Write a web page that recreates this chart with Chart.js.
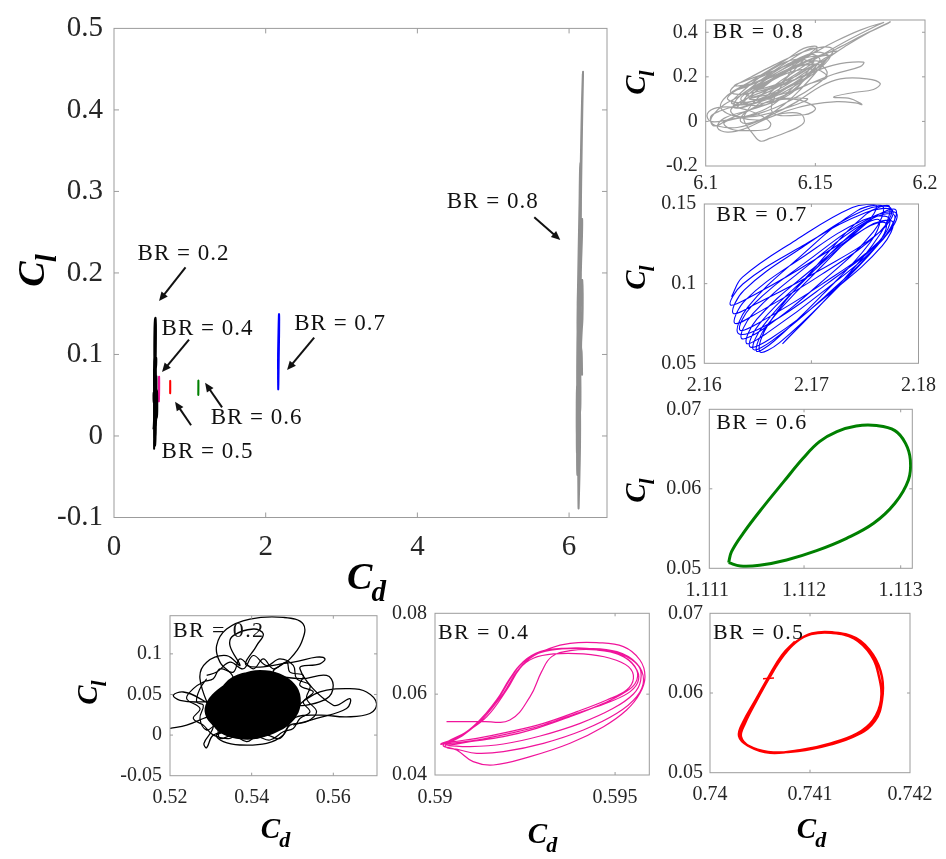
<!DOCTYPE html>
<html>
<head>
<meta charset="utf-8">
<script src="https://cdn.jsdelivr.net/npm/chart.js@4.4.0/dist/chart.umd.min.js"></script>
<style>
  html, body { margin: 0; padding: 0; background: #fff; }
  #wrap { position: relative; width: 946px; height: 859px; }
  #wrap canvas { position: absolute; left: 0; top: 0; }
</style>
</head>
<body>
<div id="wrap">
  <canvas id="cMain" width="946" height="859"></canvas>
  <canvas id="c08" width="946" height="859"></canvas>
  <canvas id="c07" width="946" height="859"></canvas>
  <canvas id="c06" width="946" height="859"></canvas>
  <canvas id="c02" width="946" height="859"></canvas>
  <canvas id="c04" width="946" height="859"></canvas>
  <canvas id="c05" width="946" height="859"></canvas>
</div>
<script>
// ---- tick values (also used as tick labels) ----
const mainCdTicks = [0, 2, 4, 6];
const mainClTicks = [-0.1, 0, 0.1, 0.2, 0.3, 0.4, 0.5];
const cd08Ticks = [6.1, 6.15, 6.2];
const cl08Ticks = [-0.2, 0, 0.2, 0.4];
const cd07Ticks = [2.16, 2.17, 2.18];
const cl07Ticks = [0.05, 0.1, 0.15];
const cd06Ticks = [1.111, 1.112, 1.113];
const cl06Ticks = [0.05, 0.06, 0.07];
const cd02Ticks = [0.52, 0.54, 0.56];
const cl02Ticks = [-0.05, 0, 0.05, 0.1];
const cd04Ticks = [0.59, 0.595];
const cl04Ticks = [0.04, 0.06, 0.08];
const cd05Ticks = [0.74, 0.741, 0.742];
const cl05Ticks = [0.05, 0.06, 0.07];

// ---- BR = 0.2 (black): outer loops, fringe round the core, dense core ----
const cd02 = [0.52000,0.52408,0.52816,0.53142,0.52734,0.52327,0.52082,0.52245,0.52734,0.53224,0.53551,0.53224,0.53142,0.53387,0.53959,0.54775,0.55264,0.55223,0.54938,0.54530,
  0.55182,0.55835,0.55998,0.55835,0.55182,0.55672,0.56406,0.56814,0.57059,0.56896,0.56325,0.55672,0.55019,0.54775,0.54367,0.53714,0.53306,0.53142,0.53551,0.53061,
  0.52898,0.52832,0.53061,0.52734,0.52898,0.53387,0.53714,0.53469,0.53551,0.54040,0.54285,0.54122,0.53877,0.55019,0.55590,0.55794,0.55672,0.55182,0.55998,0.56406,
  0.56325,0.55590,0.55019];
const cl02 = [0.00820,0.01228,0.02044,0.02860,0.04492,0.05308,0.04900,0.04288,0.04084,0.04492,0.06940,0.08980,0.11020,0.13060,0.14284,0.14488,0.13672,0.11428,0.09388,0.07756,
  0.06940,0.07348,0.06124,0.04492,0.03676,0.05308,0.05716,0.05308,0.03880,0.02656,0.02248,0.02452,0.02044,0.00000,-0.01016,-0.01220,-0.00812,0.00000,0.00616,0.00000,
  -0.01546,-0.01016,0.01228,0.06940,0.08980,0.09796,0.08572,0.11020,0.12244,0.13060,0.12448,0.11020,0.08572,0.08980,0.09592,0.09388,0.08776,0.08164,0.03676,0.04492,
  0.03268,0.02044,0.01228];
const cd02Fringe = [0.52898,0.52734,0.52653,0.52816,0.52734,0.52898,0.53142,0.53224,0.53551,0.53877,0.54122,0.54448,0.54775,0.55019,0.55182,0.55427,0.55264,0.55509,0.55182,0.55264,
  0.54938,0.54856,0.54530,0.54285,0.54040,0.53714,0.53551,0.53224,0.53061,0.52816,0.52571,0.52408,0.52734,0.52571,0.52816,0.53061,0.53469,0.53714,0.54040,0.54367,
  0.54693,0.54938,0.55346,0.55590,0.55346,0.55427,0.55101,0.55019,0.54693,0.54367,0.54040,0.53796,0.53469,0.53142,0.52898];
const cl02Fringe = [0.06940,0.05716,0.04084,0.03676,0.02044,0.00616,0.01228,-0.00404,0.00000,-0.00812,-0.00200,-0.00608,0.00412,0.00820,0.02044,0.02860,0.04084,0.05308,0.06124,0.07348,
  0.07756,0.08980,0.08164,0.09388,0.08164,0.09388,0.07756,0.08164,0.06940,0.06532,0.05716,0.04492,0.03268,0.02044,0.01228,0.00000,-0.00404,0.00412,-0.00404,0.00000,
  -0.00404,0.01228,0.01636,0.02860,0.04492,0.06124,0.06940,0.08572,0.09388,0.08572,0.09796,0.08164,0.08980,0.07756,0.07348];
const cd02Core = [0.53061,0.53551,0.54367,0.54938,0.54856,0.54040,0.53224,0.52898,0.53387,0.54204,0.55019,0.55101,0.54530,0.53632,0.53061,0.53142,0.53877,0.54775,
  0.55019,0.54612,0.53714,0.53224,0.53551,0.54367,0.54775,0.54367,0.53551,0.53387,0.53959,0.54530,0.54285,0.53714,0.53796,0.53061];
const cl02Core = [0.03676,0.06940,0.07348,0.05308,0.01636,0.00000,0.00820,0.03268,0.06124,0.07756,0.06124,0.02860,0.00412,-0.00200,0.01636,0.04900,0.06940,0.06532,
  0.03676,0.00820,0.00412,0.02860,0.05716,0.06124,0.03676,0.01228,0.01228,0.04084,0.05308,0.04492,0.02044,0.02044,0.04084,0.03676];

// ---- BR = 0.4 (magenta) ----
const cd04 = [0.59032,0.59125,0.59208,0.59264,0.59296,0.59324,0.59375,0.59449,0.59514,0.59556,0.59565,0.59542,0.59486,0.59394,0.59301,0.59208,0.59116,0.59042,0.59016,
  0.59069,0.59125,0.59176,0.59213,0.59245,0.59292,0.59356,0.59449,0.59523,0.59560,0.59556,0.59523,0.59468,0.59375,0.59282,0.59190,0.59097,0.59032,
  0.59060,0.59116,0.59171,0.59208,0.59241,0.59282,0.59338,0.59421,0.59505,0.59560,0.59579,0.59560,0.59505,0.59412,0.59301,0.59190,0.59116,0.59069,0.59028,
  0.59079,0.59134,0.59190,0.59227,0.59264,0.59319,0.59375,0.59449,0.59523,0.59569,0.59583,0.59569,0.59532,0.59468,0.59375,0.59264,0.59162,0.59106,0.59060,0.59023,
  0.59088,0.59144,0.59199,0.59236,0.59273,0.59329,0.59412,0.59486,0.59537,0.59551,0.59532,0.59477,0.59394,0.59301,0.59208,0.59116,0.59051,0.59019,
  0.59065,0.59120,0.59173,0.59210,0.59244,0.59287,0.59347,0.59435,0.59514,0.59565,0.59571,0.59551,0.59495,0.59403,0.59292,0.59190,0.59097,0.59037];
const cl04 = [0.05320,0.05328,0.05361,0.05938,0.06557,0.06928,0.07076,0.07093,0.06969,0.06664,0.06351,0.06062,0.05814,0.05526,0.05237,0.05031,0.04866,0.04784,0.04767,
  0.04948,0.05361,0.05897,0.06433,0.06804,0.07052,0.07134,0.07109,0.06928,0.06598,0.06268,0.06021,0.05773,0.05443,0.05155,0.04948,0.04825,0.04742,
  0.04907,0.05278,0.05856,0.06392,0.06763,0.06994,0.07109,0.07134,0.07052,0.06763,0.06351,0.05938,0.05526,0.05113,0.04784,0.04577,0.04536,0.04619,0.04718,
  0.04990,0.05402,0.06021,0.06557,0.06887,0.07134,0.07258,0.07274,0.07175,0.06845,0.06433,0.06021,0.05608,0.05196,0.04784,0.04454,0.04247,0.04330,0.04619,0.04742,
  0.05072,0.05443,0.06103,0.06639,0.06887,0.06994,0.06994,0.06887,0.06680,0.06392,0.06103,0.05856,0.05567,0.05278,0.05072,0.04907,0.04825,0.04784,
  0.04932,0.05320,0.05872,0.06416,0.06779,0.07027,0.07118,0.07118,0.06994,0.06697,0.06334,0.06004,0.05649,0.05278,0.04965,0.04767,0.04701,0.04726];

// ---- BR = 0.5 (red): short start stub, then the cycle ----
const cd05Stub = [0.74053, 0.74064];
const cl05Stub = [0.06180, 0.06188];
const cd05 = [0.74060,0.74073,0.74086,0.74101,0.74121,0.74144,0.74161,0.74169,0.74171,0.74163,0.74147,0.74120,0.74090,0.74060,0.74040,0.74031,0.74035,0.74047,0.74060,
  0.74074,0.74087,0.74102,0.74122,0.74146,0.74163,0.74172,0.74172,0.74165,0.74148,0.74120,0.74088,0.74058,0.74038,0.74029,0.74033,0.74046,0.74059,0.74072,0.74085];
const cl05 = [0.06205,0.06470,0.06640,0.06738,0.06755,0.06684,0.06475,0.06205,0.05910,0.05660,0.05492,0.05366,0.05282,0.05250,0.05325,0.05452,0.05620,0.05915,0.06210,
  0.06480,0.06650,0.06748,0.06762,0.06690,0.06480,0.06200,0.05905,0.05650,0.05480,0.05352,0.05270,0.05262,0.05340,0.05460,0.05630,0.05920,0.06210,0.06475,0.06645];

// ---- BR = 0.6 (green) ----
const cd06 = [1.11122,1.11134,1.11154,1.11182,1.11213,1.11244,1.11272,1.11294,1.11308,1.11310,1.11305,1.11294,1.11275,1.11254,1.11234,1.11216,1.11199,1.11179,1.11158,1.11137,1.11125,1.11122];
const cl06 = [0.05071,0.05029,0.05038,0.05105,0.05222,0.05377,0.05566,0.05818,0.06111,0.06363,0.06572,0.06732,0.06795,0.06790,0.06719,0.06593,0.06384,0.06090,0.05776,0.05440,0.05210,0.05071];

// ---- BR = 0.7 (blue) ----
const cd07 = [2.16254,2.16357,2.16854,2.17382,2.17603,2.17501,2.17003,2.16476,
  2.16245,2.16360,2.16918,2.17509,2.17758,2.17643,2.17085,2.16494,
  2.16270,2.16372,2.16913,2.17491,2.17743,2.17640,2.17099,2.16521,
  2.16285,2.16384,2.16913,2.17480,2.17727,2.17629,2.17099,2.16533,
  2.16332,2.16440,2.16980,2.17553,2.17795,2.17687,2.17147,2.16574,
  2.16316,2.16404,2.16898,2.17429,2.17665,2.17578,2.17084,2.16553,
  2.16347,2.16451,2.16977,2.17536,2.17774,2.17669,2.17144,2.16585,
  2.16394,2.16491,2.16992,2.17527,2.17758,2.17661,2.17160,2.16624,
  2.16425,2.16518,2.16986,2.17484,2.17696,2.17603,2.17135,2.16637,
  2.16456,2.16545,2.16980,2.17441,2.17634,2.17545,2.17110,2.16649,
  2.16487,2.16584,2.17064,2.17573,2.17789,2.17692,2.17212,2.16703,
  2.16518,2.16596,2.17039,2.17515,2.17727,2.17649,2.17206,2.16730];
const cl07 = [0.09184,0.10410,0.12730,0.14782,0.14937,0.13711,0.11391,0.09339,
  0.08661,0.09975,0.12374,0.14473,0.14582,0.13268,0.10868,0.08770,
  0.08138,0.09598,0.12270,0.14607,0.14728,0.13268,0.10596,0.08259,
  0.07510,0.08971,0.11642,0.13979,0.14100,0.12640,0.09969,0.07632,
  0.07092,0.08573,0.11506,0.14138,0.14414,0.12933,0.10000,0.07368,
  0.06883,0.08510,0.11715,0.14586,0.14874,0.13247,0.10042,0.07172,
  0.06569,0.08100,0.11192,0.13983,0.14310,0.12778,0.09686,0.06895,
  0.06255,0.07774,0.10826,0.13577,0.13891,0.12372,0.09320,0.06569,
  0.06046,0.07510,0.10586,0.13393,0.13787,0.12322,0.09247,0.06439,
  0.05879,0.07322,0.10523,0.13490,0.13996,0.12552,0.09351,0.06385,
  0.05774,0.07372,0.10868,0.14096,0.14623,0.13025,0.09529,0.06301,
  0.05732,0.07431,0.11056,0.14381,0.14874,0.13176,0.09550,0.06226];

// ---- BR = 0.8 (gray) ----
const cd08 = [6.12500,6.13409,6.14469,6.15075,6.14772,6.13712,6.12500,6.11591,6.10833,6.10379,6.10227,6.10530,6.11439,6.12500,6.13560,6.14318,6.15075,6.15530,6.15833,6.15378,
  6.14318,6.13106,6.12045,6.11288,6.11136,6.11742,6.12954,6.14318,6.15833,6.17196,6.17045,6.15833,6.14621,6.13560,6.12500,6.11742,6.11591,6.12045,6.13106,6.14166,
  6.15227,6.16136,6.17348,6.17954,6.17651,6.16742,6.15833,6.16590,6.17045,6.17120,6.16893,6.15984,6.14772,6.13712,6.12651,6.11742,6.10985,6.10530,6.10833,6.11894,
  6.13106,6.14015,6.14772,6.15530,6.16439,6.17499,6.18408,6.18257,6.17196,6.16136,6.15378,6.14621,6.13712,6.12803,6.11894,6.11439,6.11894,6.13106,6.14015,6.14924,
  6.15833,6.17045,6.18105,6.17802,6.16439,6.15227,6.14318,6.13257,6.12348,6.11894,6.11742,6.12197,6.12500,6.12954,6.13712,6.14469,6.14318,6.13409,6.12500,6.11439,
  6.10682,6.10985,6.11894,6.12803,6.13712,6.14469,6.15075,6.14621,6.13863,6.12954,6.12197,6.11591,6.10985,6.10379,6.10227,6.10682,6.11591,6.12651,6.13712,6.14772,
  6.15530,6.15075,6.14015,6.12803,6.11894,6.11439,6.11894,6.12954,6.14015,6.14621,
  6.14621,6.13712,6.12500,6.11591,6.11136,6.11591,6.12803,6.14015,6.14924,6.15530,6.15227,6.14318,6.13257,6.12197,6.11439,6.11288,6.12045,6.13257,6.14469,6.15227,
  6.15681,6.15075,6.14015,6.12954,6.12045,6.11742,6.12500,6.13560,6.14621,6.15378,6.15984,6.15530,6.14469,6.13409,6.12500,6.11894,6.12348,6.13409,6.14318,6.14924,
  6.14621,6.13712,6.12803,6.12197,6.12954,6.14015,6.14772,6.13257,6.12197,6.10985,6.10227,6.10076,6.10530,6.11439,6.12348,6.12954,6.12803,6.11894,6.11136,6.10833,
  6.11439,6.12500,6.13712,6.14621,
  6.12000,6.13500,6.15000,6.14200,6.12800,6.11500,6.11200,6.12500,6.14000,6.15200,6.14800,6.13600,6.12200,6.11600,6.12400,6.13800,6.14600,6.15000,6.14000,6.12800,
  6.11800,6.12200,6.13400,6.14500,6.15600,6.15000,6.13800,6.12600,6.11400,6.11000,6.11800,6.13100,6.14300,6.15300,6.14600,6.13300,6.12100,6.11300,6.12000,6.13200,
  6.14000,6.13000,6.14500,6.15000,6.14000,6.12500];
const cl08 = [0.1434,0.2116,0.2799,0.3208,0.3277,0.2662,0.1843,0.1161,0.0751,0.0342,0.0000,-0.0204,-0.0272,0.0069,0.0751,0.1434,0.2253,0.2799,0.3208,0.3345,
  0.3072,0.2526,0.1980,0.1570,0.1297,0.1229,0.1502,0.1980,0.2526,0.2662,0.2458,0.2116,0.1639,0.1161,0.0751,0.0342,0.0000,-0.0068,0.0342,0.0888,
  0.1570,0.1912,0.1912,0.1707,0.1434,0.1297,0.1093,0.1024,0.0820,0.0751,0.0820,0.0888,0.0751,0.0478,0.0069,-0.0341,-0.0477,-0.0272,0.0137,0.0478,
  0.0888,0.1434,0.2116,0.2799,0.3413,0.4027,0.4464,0.4369,0.3891,0.3345,0.3004,0.2867,0.2526,0.2116,0.1707,0.1434,0.1570,0.2116,0.2594,0.3072,
  0.3550,0.4096,0.4437,0.4300,0.3618,0.2935,0.2389,0.1707,0.1024,0.0478,0.0069,-0.0614,-0.0887,-0.0750,-0.0477,-0.0068,0.0342,0.0342,0.0069,0.0205,
  0.0615,0.1161,0.1707,0.2253,0.2799,0.3277,0.3345,0.2935,0.2116,0.1297,0.0615,0.0342,0.0069,-0.0204,0.0205,0.0478,0.0751,0.1024,0.1297,0.1707,
  0.1980,0.2321,0.2253,0.1707,0.1024,0.0615,0.0683,0.1161,0.1707,0.1980,
  0.2116,0.1707,0.1297,0.0888,0.0478,0.0205,0.0478,0.1024,0.1570,0.2116,0.2526,0.2526,0.2116,0.1570,0.1024,0.0615,0.0751,0.1161,0.1843,0.2389,
  0.2935,0.2867,0.2389,0.1843,0.1297,0.0888,0.1024,0.1570,0.2253,0.2799,0.3140,0.3072,0.2662,0.2116,0.1570,0.1161,0.1229,0.1707,0.2253,0.2662,
  0.2594,0.2253,0.1775,0.1434,0.1570,0.1980,0.2389,0.0888,0.0342,0.0069,0.0000,0.0342,0.0615,0.0615,0.0342,-0.0068,-0.0341,-0.0409,-0.0341,-0.0068,
  0.0137,0.0273,0.0615,0.1024,
  0.1000,0.1400,0.2400,0.2800,0.2200,0.1200,0.0800,0.0900,0.1700,0.2700,0.3000,0.2400,0.1500,0.1000,0.0700,0.1200,0.2000,0.2500,0.2400,0.1800,
  0.1300,0.1100,0.1600,0.2300,0.2900,0.3100,0.2600,0.1900,0.1400,0.1000,0.0850,0.1200,0.1900,0.2600,0.2700,0.2100,0.1700,0.1600,0.1900,0.2300,
  0.2600,0.0500,0.0300,0.0600,0.1000,0.0800];

// notes and arrows of the overview plot, in data units
const mainNotes = [
  { text: 'BR = 0.2', tx: 0.917, ty: 0.2236, from: [0.943, 0.2067], to: [0.594, 0.1655] },
  { text: 'BR = 0.4', tx: 1.233, ty: 0.1317, from: [0.989, 0.1183], to: [0.633, 0.0784] },
  { text: 'BR = 0.5', tx: 1.233, ty: -0.0196, from: [1.016, 0.0131], to: [0.805, 0.0421] },
  { text: 'BR = 0.6', tx: 1.880, ty: 0.0216, from: [1.425, 0.0351], to: [1.201, 0.0652] },
  { text: 'BR = 0.7', tx: 2.982, ty: 0.1377, from: [2.639, 0.1207], to: [2.282, 0.0808] },
  { text: 'BR = 0.8', tx: 4.993, ty: 0.2877, from: [5.541, 0.2683], to: [5.884, 0.2405] },
];

const SERIF = '"Liberation Serif", "Times New Roman", serif';
const COL = { b02: '#000000', b04: '#f0149b', b05: '#ff0000', b06: '#008000', b07: '#0000ff', b08: '#a0a0a0' };

function pts(xs, ys) {
  const n = Math.min(xs.length, ys.length);
  const out = [];
  for (let i = 0; i < n; i++) out.push({ x: xs[i], y: ys[i] });
  return out;
}

// C with a subscript, optionally turned for the vertical axis
function subLabel(ctx, main, sub, cx, cy, size, rotate) {
  ctx.save();
  ctx.translate(cx, cy);
  if (rotate) ctx.rotate(-Math.PI / 2);
  ctx.fillStyle = '#000';
  ctx.textBaseline = 'alphabetic';
  ctx.textAlign = 'left';
  const subSize = Math.round(size * 0.75);
  ctx.font = `italic bold ${size}px ${SERIF}`;
  const w1 = ctx.measureText(main).width;
  ctx.font = `italic bold ${subSize}px ${SERIF}`;
  const w2 = ctx.measureText(sub).width;
  const x0 = -(w1 + w2) / 2;
  ctx.font = `italic bold ${size}px ${SERIF}`;
  ctx.fillText(main, x0, size * 0.33);
  ctx.font = `italic bold ${subSize}px ${SERIF}`;
  ctx.fillText(sub, x0 + w1 - 1, size * 0.33 + size * 0.32);
  ctx.restore();
}

function arrow(ctx, x1, y1, x2, y2) {
  const ang = Math.atan2(y2 - y1, x2 - x1);
  const hl = 9, hw = 4;
  ctx.beginPath();
  ctx.moveTo(x1, y1);
  ctx.lineTo(x2 - Math.cos(ang) * hl * 0.8, y2 - Math.sin(ang) * hl * 0.8);
  ctx.stroke();
  ctx.beginPath();
  ctx.moveTo(x2, y2);
  ctx.lineTo(x2 - Math.cos(ang) * hl - Math.sin(ang) * hw, y2 - Math.sin(ang) * hl + Math.cos(ang) * hw);
  ctx.lineTo(x2 - Math.cos(ang) * hl + Math.sin(ang) * hw, y2 - Math.sin(ang) * hl - Math.cos(ang) * hw);
  ctx.closePath();
  ctx.fill();
}

function axis(min, max, ticks, size, pad, fixed, isX) {
  return {
    type: 'linear', min, max,
    afterBuildTicks: s => { s.ticks = ticks.map(v => ({ value: v })); },
    afterFit: s => { if (isX) s.height = fixed; else s.width = fixed; },
    grid: { display: false, drawTicks: false },
    border: { display: false },
    ticks: {
      font: { family: SERIF, size }, color: '#262626', padding: pad,
      maxRotation: 0, autoSkip: false, callback: (v, i) => String(ticks[i])
    }
  };
}

function makePanel(p) {
  const [bl, bt, br, bb] = p.box;
  const yw = 90, xh = 50;
  const overlay = {
    id: 'overlay',
    afterDatasetsDraw(chart) {
      const { ctx, chartArea: a, scales: { x, y } } = chart;
      ctx.save();
      ctx.strokeStyle = '#9c9c9c';
      ctx.lineWidth = 1;
      ctx.strokeRect(a.left, a.top, a.right - a.left, a.bottom - a.top);
      ctx.beginPath();
      for (const t of x.ticks) {
        const px = x.getPixelForValue(t.value);
        if (px - a.left < 2 || a.right - px < 2) continue;
        ctx.moveTo(px, a.bottom); ctx.lineTo(px, a.bottom - p.tickLen);
        ctx.moveTo(px, a.top); ctx.lineTo(px, a.top + p.tickLen);
      }
      for (const t of y.ticks) {
        const py = y.getPixelForValue(t.value);
        if (py - a.top < 2 || a.bottom - py < 2) continue;
        ctx.moveTo(a.left, py); ctx.lineTo(a.left + p.tickLen, py);
        ctx.moveTo(a.right, py); ctx.lineTo(a.right - p.tickLen, py);
      }
      ctx.stroke();

      ctx.fillStyle = '#111';
      ctx.strokeStyle = '#111';
      if (p.tag) {
        ctx.font = `${p.tag.size}px ${SERIF}`;
        ctx.letterSpacing = p.tag.spacing + 'px';
        ctx.textAlign = 'left';
        ctx.textBaseline = 'middle';
        ctx.fillText(p.tag.text, a.left + p.tag.dx, a.top + p.tag.dy);
      }
      if (p.notes) {
        ctx.font = `23px ${SERIF}`;
        ctx.letterSpacing = '1px';
        ctx.textAlign = 'center';
        ctx.textBaseline = 'middle';
        ctx.lineWidth = 2;
        for (const n of p.notes) {
          ctx.fillText(n.text, x.getPixelForValue(n.tx), y.getPixelForValue(n.ty));
          arrow(ctx, x.getPixelForValue(n.from[0]), y.getPixelForValue(n.from[1]),
                x.getPixelForValue(n.to[0]), y.getPixelForValue(n.to[1]));
        }
      }
      ctx.letterSpacing = '0px';
      if (p.xTitle) subLabel(ctx, 'C', 'd', p.xTitle[0], p.xTitle[1], p.titleSize, false);
      if (p.yTitle) subLabel(ctx, 'C', 'l', p.yTitle[0], p.yTitle[1], p.titleSize, true);
      ctx.restore();
    }
  };
  new Chart(document.getElementById(p.id), {
    type: 'scatter',
    data: {
      datasets: p.sets.map(s => ({
        data: s.data, showLine: true, pointRadius: 0, tension: s.tension ?? 0.4,
        borderColor: s.color, backgroundColor: s.color, borderWidth: s.width,
        fill: s.fill || false
      }))
    },
    options: {
      responsive: false, animation: false, events: [],
      layout: { padding: { left: bl - yw, top: bt, right: 946 - br, bottom: 859 - bb - xh } },
      plugins: { legend: { display: false }, tooltip: { enabled: false } },
      scales: {
        x: axis(p.xr[0], p.xr[1], p.xt, p.font, p.xpad, xh, true),
        y: axis(p.yr[0], p.yr[1], p.yt, p.font, p.ypad, yw, false)
      }
    },
    plugins: [overlay]
  });
}

// overview of all blockage ratios
makePanel({
  id: 'cMain', box: [114, 21.5, 607, 517.5], xr: [0, 6.5], yr: [-0.1, 0.5],
  xt: mainCdTicks, yt: mainClTicks, font: 29, xpad: 12, ypad: 11, tickLen: 5,
  notes: mainNotes, xTitle: [367, 576], yTitle: [31, 270], titleSize: 38,
  sets: [
    { data: pts(cd08, cl08), color: '#909090', width: 2 },
    { data: pts(cd07, cl07), color: COL.b07, width: 2 },
    { data: pts(cd06, cl06), color: COL.b06, width: 2 },
    { data: pts(cd05, cl05), color: COL.b05, width: 2 },
    { data: pts(cd02, cl02), color: COL.b02, width: 2 },
    { data: pts(cd02Core, cl02Core), color: COL.b02, width: 2 },
    { data: pts(cd04, cl04), color: COL.b04, width: 2 }
  ]
});

const smallTag = (text, dx, dy) => ({ text, dx, dy, size: 22, spacing: 1.4 });

makePanel({
  id: 'c08', box: [705.7, 7.3, 925, 166], xr: [6.1, 6.2], yr: [-0.2, 0.455],
  xt: cd08Ticks, yt: cl08Ticks, font: 20, xpad: 6, ypad: 8, tickLen: 3,
  tag: smallTag('BR = 0.8', 7, 12), yTitle: [635, 82], titleSize: 29,
  sets: [{ data: pts(cd08, cl08), color: COL.b08, width: 1.2 }]
});

makePanel({
  id: 'c07', box: [704.3, 204, 919.3, 363.3], xr: [2.16, 2.18], yr: [0.05, 0.15],
  xt: cd07Ticks, yt: cl07Ticks, font: 20, xpad: 10, ypad: 8, tickLen: 3,
  tag: smallTag('BR = 0.7', 12, 11), yTitle: [635, 277], titleSize: 29,
  sets: [{ data: pts(cd07, cl07), color: COL.b07, width: 1.1 }]
});

makePanel({
  id: 'c06', box: [709.3, 409.3, 912.3, 568.3], xr: [1.11102, 1.11312], yr: [0.05, 0.07],
  xt: cd06Ticks, yt: cl06Ticks, font: 20, xpad: 10, ypad: 8, tickLen: 3,
  tag: smallTag('BR = 0.6', 7, 14), yTitle: [635, 490], titleSize: 29,
  sets: [{ data: pts(cd06, cl06), color: COL.b06, width: 3 }]
});

makePanel({
  id: 'c02', box: [170, 615.7, 377, 775.7], xr: [0.52, 0.5707], yr: [-0.05, 0.147],
  xt: cd02Ticks, yt: cl02Ticks, font: 20, xpad: 10, ypad: 8, tickLen: 3,
  tag: smallTag('BR = 0.2', 3, 16), xTitle: [276, 828], yTitle: [87, 692], titleSize: 29,
  sets: [
    { data: pts(cd02Core, cl02Core), color: COL.b02, width: 4, fill: 'shape' },
    { data: pts(cd02Fringe, cl02Fringe), color: COL.b02, width: 1.2 },
    { data: pts(cd02, cl02), color: COL.b02, width: 1.3 }
  ]
});

makePanel({
  id: 'c04', box: [435, 613.3, 649.3, 775], xr: [0.59, 0.59595], yr: [0.04, 0.08],
  xt: cd04Ticks, yt: cl04Ticks, font: 20, xpad: 11, ypad: 8, tickLen: 3,
  tag: smallTag('BR = 0.4', 3, 20), xTitle: [543, 833], titleSize: 29,
  sets: [{ data: pts(cd04, cl04), color: COL.b04, width: 1.2 }]
});

makePanel({
  id: 'c05', box: [710, 613.3, 910, 772.7], xr: [0.74, 0.742], yr: [0.05, 0.07],
  xt: cd05Ticks, yt: cl05Ticks, font: 20, xpad: 10, ypad: 7, tickLen: 3,
  tag: smallTag('BR = 0.5', 3, 20), xTitle: [812, 828], titleSize: 29,
  sets: [
    { data: pts(cd05Stub, cl05Stub), color: COL.b05, width: 1.5, tension: 0 },
    { data: pts(cd05, cl05), color: COL.b05, width: 2.4 }
  ]
});
</script>
</body>
</html>
